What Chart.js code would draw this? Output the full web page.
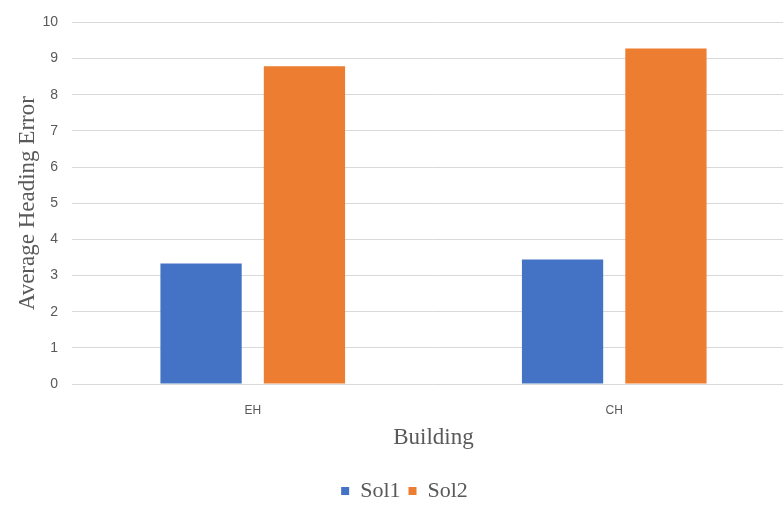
<!DOCTYPE html>
<html>
<head>
<meta charset="utf-8">
<script src="https://cdn.jsdelivr.net/npm/chart.js@4/dist/chart.umd.min.js"></script>
<style>
  html, body { margin: 0; padding: 0; background: #fff; overflow: hidden; }
  #wrap { width: 795px; height: 516px; }
</style>
</head>
<body>
<div id="wrap"><canvas id="c" width="795" height="516"></canvas></div>
<script>
// Average heading error per building for the two solutions
const buildings = ['EH', 'CH'];
const sol1 = [3.33, 3.44];
const sol2 = [8.79, 9.28];
const seriesNames = ['Sol1', 'Sol2'];
const yTicks = [0, 1, 2, 3, 4, 5, 6, 7, 8, 9, 10];

const grey = '#595959';
const serif = '"Liberation Serif", "DejaVu Serif", serif';
const sans = '"Liberation Sans", "DejaVu Sans", sans-serif';

new Chart(document.getElementById('c'), {
  type: 'bar',
  data: {
    labels: buildings,
    datasets: [
      { label: seriesNames[0], data: sol1, backgroundColor: '#4472C4',
        categoryPercentage: 0.572, barPercentage: 0.786 },
      { label: seriesNames[1], data: sol2, backgroundColor: '#ED7D31',
        categoryPercentage: 0.572, barPercentage: 0.786 }
    ]
  },
  options: {
    responsive: false,
    animation: false,
    layout: { padding: { top: 9, left: 14, right: 0, bottom: 4 } },
    plugins: {
      tooltip: { enabled: false },
      legend: {
        position: 'bottom',
        labels: {
          color: grey,
          font: { family: serif, size: 22 },
          usePointStyle: true,
          pointStyle: 'rect',
          boxWidth: 8,
          boxHeight: 8,
          padding: 8
        }
      }
    },
    scales: {
      x: {
        grid: { display: false },
        border: { display: false },
        ticks: { color: grey, font: { family: sans, size: 12 }, padding: 11 },
        title: { display: true, text: 'Building', color: grey,
                 font: { family: serif, size: 23 }, padding: { top: -4, bottom: 20 } }
      },
      y: {
        min: 0,
        max: 10,
        afterBuildTicks: (axis) => { axis.ticks = yTicks.map(v => ({ value: v })); },
        afterFit: (axis) => { axis.width = 58; },
        grid: { color: '#d9d9d9', lineWidth: 1, drawTicks: false },
        border: { display: false },
        ticks: { color: grey, font: { family: sans, size: 14 }, padding: 14 },
        title: { display: true, text: 'Average Heading Error', color: grey,
                 font: { family: serif, size: 23 }, padding: { top: 0, bottom: 2 } }
      }
    }
  }
});
</script>
</body>
</html>
